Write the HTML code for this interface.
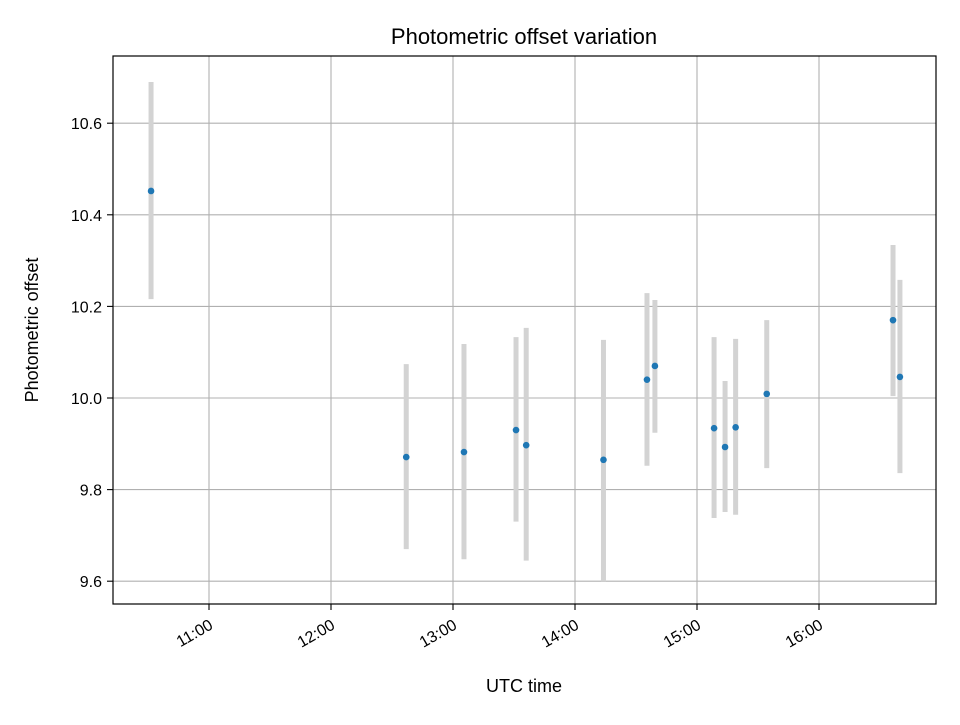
<!DOCTYPE html>
<html><head><meta charset="utf-8"><style>
html,body{margin:0;padding:0;background:#fff;}
svg text{font-family:"Liberation Sans","DejaVu Sans",sans-serif;fill:#000;}
</style></head><body>
<svg id="chart" width="960" height="720" xmlns="http://www.w3.org/2000/svg">
<rect width="960" height="720" fill="#fff"/>
<g id="grid"></g>
<g id="bars"></g>
<g id="pts"></g>
<rect x="113" y="56" width="823" height="548" fill="none" stroke="#000" stroke-width="1.2"/>
<g id="axes"></g>
<text x="524" y="44" font-size="22" text-anchor="middle">Photometric offset variation</text>
<text x="524" y="692" font-size="18" text-anchor="middle">UTC time</text>
<text transform="translate(38,330) rotate(-90)" font-size="18" text-anchor="middle">Photometric offset</text>
</svg>
<script>
// times in minutes since 00:00 UTC
const times = [631.5, 757, 785.4, 811, 816, 854, 875.4, 879.3, 908.4, 913.8, 919, 934.3, 996.4, 999.8];
const values = [10.452, 9.871, 9.882, 9.930, 9.897, 9.865, 10.040, 10.070, 9.934, 9.893, 9.936, 10.009, 10.170, 10.046];
const errLow = [10.216, 9.670, 9.648, 9.730, 9.645, 9.600, 9.852, 9.924, 9.738, 9.751, 9.745, 9.847, 10.004, 9.836];
const errHigh = [10.690, 10.074, 10.118, 10.133, 10.153, 10.127, 10.229, 10.214, 10.133, 10.037, 10.129, 10.170, 10.334, 10.258];
const yTicks = [9.6, 9.8, 10.0, 10.2, 10.4, 10.6];
const xTicks = [660, 720, 780, 840, 900, 960];
const xTickLabels = ["11:00","12:00","13:00","14:00","15:00","16:00"];

const NS = "http://www.w3.org/2000/svg";
function X(m){ return 209 + (m - 660) * 122 / 60; }
function Y(v){ return 398 - (v - 10) * 458; }
function mk(tag, attrs, parent){
  const e = document.createElementNS(NS, tag);
  for (const k in attrs) e.setAttribute(k, attrs[k]);
  parent.appendChild(e); return e;
}
const grid = document.getElementById('grid'), axes = document.getElementById('axes');
const bars = document.getElementById('bars'), pts = document.getElementById('pts');
yTicks.forEach(t => {
  const y = Y(t);
  const g = mk('line', {x1:113, x2:936, y1:y, y2:y, stroke:'#b0b0b0', 'stroke-width':1.1}, grid);
  
  
  mk('line', {x1:107, x2:113, y1:y, y2:y, stroke:'#000', 'stroke-width':1.1}, axes);
  const tx = mk('text', {x:102, y:y+6, 'font-size':16, 'text-anchor':'end'}, axes);
  tx.textContent = t.toFixed(1);
  
  
});
xTicks.forEach((t, i) => {
  const x = X(t);
  const g = mk('line', {x1:x, x2:x, y1:56, y2:604, stroke:'#b0b0b0', 'stroke-width':1.1}, grid);
  
  
  mk('line', {x1:x, x2:x, y1:604, y2:610, stroke:'#000', 'stroke-width':1.1}, axes);
  const tx = mk('text', {transform:`translate(${x+5},${628}) rotate(-30)`, 'font-size':16, 'text-anchor':'end'}, axes);
  tx.textContent = xTickLabels[i];
  
  
});
times.forEach((t, i) => {
  const x = X(t);
  const b = mk('line', {x1:x, x2:x, y1:Y(errHigh[i]), y2:Y(errLow[i]), stroke:'#d3d3d3', 'stroke-width':5}, bars);
  
  
  const c = mk('circle', {cx:x, cy:Y(values[i]), r:3.3, fill:'#1f77b4'}, pts);
  
  
});
</script>
</body></html>
